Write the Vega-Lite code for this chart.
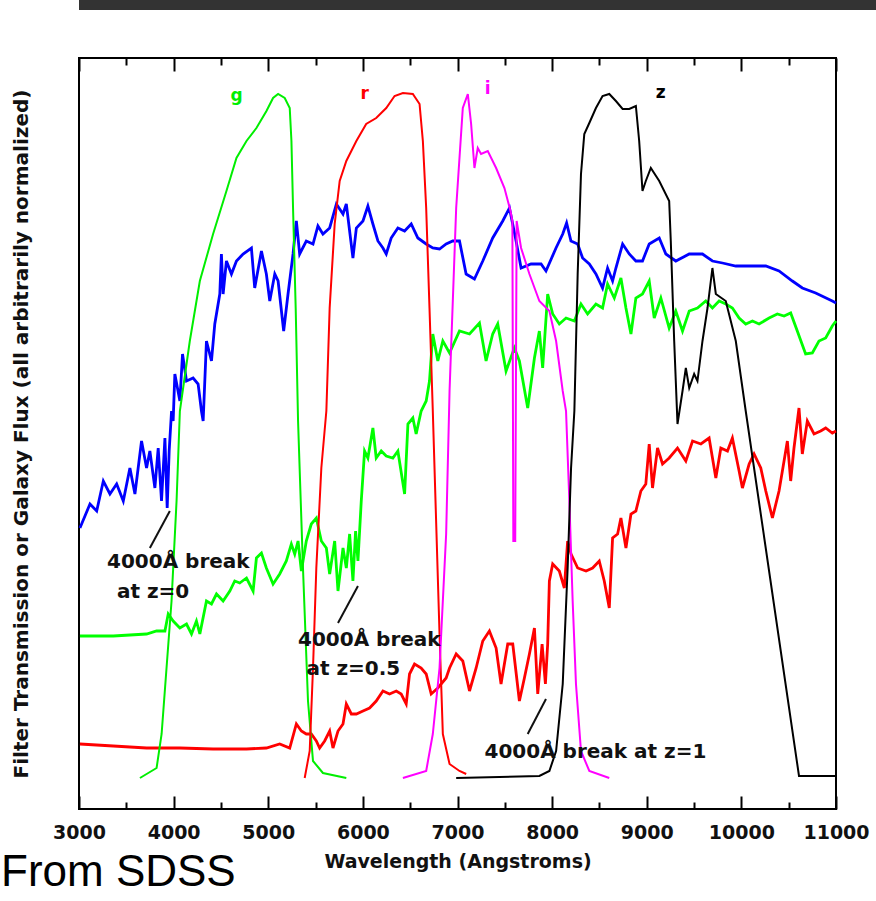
{
"$schema":"https://vega.github.io/schema/vega-lite/v6.json",
"padding":0,
"background":"white",
"columns":1,
"align":"none",
"spacing":46,
"config":{"view":{"stroke":null}},
"concat":[
{"width":798,"height":10,"view":{"fill":"#333333","stroke":null},"data":{"values":[]},"mark":"rect"},
{
"width":757,"height":751,
"view":{"stroke":"black","strokeWidth":2},
"title":{"text":"From SDSS","orient":"bottom","anchor":"start","frame":"group","font":"Liberation Sans","fontSize":44,"fontWeight":"normal","color":"black","dx":-78,"offset":-20},
"encoding":{
"y":{"field":"f","type":"quantitative","scale":{"domain":[2,753],"nice":false,"zero":false},"axis":{"title":"Filter Transmission or Galaxy Flux (all arbitrarily normalized)","ticks":false,"labels":false,"domain":false,"grid":false,"titleFont":"DejaVu Sans","titleFontWeight":"bold","titleFontSize":20,"titleColor":"#111111","titlePadding":48}}
},
"layer":[
{"data":{"values":[
{"s":"galaxy z=0","w":3010,"f":283},{"s":"galaxy z=0","w":3116,"f":307},{"s":"galaxy z=0","w":3187,"f":300},{"s":"galaxy z=0","w":3257,"f":330},{"s":"galaxy z=0","w":3327,"f":317},{"s":"galaxy z=0","w":3398,"f":327},{"s":"galaxy z=0","w":3468,"f":310},{"s":"galaxy z=0","w":3538,"f":343},{"s":"galaxy z=0","w":3591,"f":317},{"s":"galaxy z=0","w":3661,"f":370},{"s":"galaxy z=0","w":3714,"f":343},{"s":"galaxy z=0","w":3749,"f":360},{"s":"galaxy z=0","w":3802,"f":323},{"s":"galaxy z=0","w":3837,"f":363},{"s":"galaxy z=0","w":3872,"f":310},{"s":"galaxy z=0","w":3908,"f":373},{"s":"galaxy z=0","w":3932,"f":303},{"s":"galaxy z=0","w":3953,"f":360},{"s":"galaxy z=0","w":3978,"f":400},{"s":"galaxy z=0","w":3995,"f":390},{"s":"galaxy z=0","w":4013,"f":437},{"s":"galaxy z=0","w":4066,"f":410},{"s":"galaxy z=0","w":4094,"f":457},{"s":"galaxy z=0","w":4136,"f":430},{"s":"galaxy z=0","w":4206,"f":433},{"s":"galaxy z=0","w":4259,"f":427},{"s":"galaxy z=0","w":4294,"f":400},{"s":"galaxy z=0","w":4312,"f":390},{"s":"galaxy z=0","w":4347,"f":470},{"s":"galaxy z=0","w":4400,"f":450},{"s":"galaxy z=0","w":4435,"f":487},{"s":"galaxy z=0","w":4488,"f":517},{"s":"galaxy z=0","w":4505,"f":557},{"s":"galaxy z=0","w":4523,"f":517},{"s":"galaxy z=0","w":4558,"f":550},{"s":"galaxy z=0","w":4611,"f":537},{"s":"galaxy z=0","w":4664,"f":550},{"s":"galaxy z=0","w":4734,"f":557},{"s":"galaxy z=0","w":4822,"f":563},{"s":"galaxy z=0","w":4857,"f":523},{"s":"galaxy z=0","w":4928,"f":560},{"s":"galaxy z=0","w":4980,"f":537},{"s":"galaxy z=0","w":5016,"f":510},{"s":"galaxy z=0","w":5069,"f":537},{"s":"galaxy z=0","w":5104,"f":530},{"s":"galaxy z=0","w":5163,"f":480},{"s":"galaxy z=0","w":5209,"f":517},{"s":"galaxy z=0","w":5262,"f":557},{"s":"galaxy z=0","w":5297,"f":590},{"s":"galaxy z=0","w":5332,"f":557},{"s":"galaxy z=0","w":5402,"f":570},{"s":"galaxy z=0","w":5473,"f":567},{"s":"galaxy z=0","w":5525,"f":585},{"s":"galaxy z=0","w":5578,"f":577},{"s":"galaxy z=0","w":5649,"f":583},{"s":"galaxy z=0","w":5720,"f":607},{"s":"galaxy z=0","w":5790,"f":597},{"s":"galaxy z=0","w":5825,"f":607},{"s":"galaxy z=0","w":5895,"f":553},{"s":"galaxy z=0","w":5931,"f":583},{"s":"galaxy z=0","w":6001,"f":590},{"s":"galaxy z=0","w":6053,"f":605},{"s":"galaxy z=0","w":6106,"f":587},{"s":"galaxy z=0","w":6159,"f":570},{"s":"galaxy z=0","w":6212,"f":563},{"s":"galaxy z=0","w":6247,"f":557},{"s":"galaxy z=0","w":6299,"f":573},{"s":"galaxy z=0","w":6370,"f":583},{"s":"galaxy z=0","w":6441,"f":580},{"s":"galaxy z=0","w":6511,"f":587},{"s":"galaxy z=0","w":6581,"f":573},{"s":"galaxy z=0","w":6669,"f":567},{"s":"galaxy z=0","w":6739,"f":563},{"s":"galaxy z=0","w":6810,"f":562},{"s":"galaxy z=0","w":6880,"f":567},{"s":"galaxy z=0","w":6950,"f":570},{"s":"galaxy z=0","w":7021,"f":570},{"s":"galaxy z=0","w":7091,"f":537},{"s":"galaxy z=0","w":7179,"f":532},{"s":"galaxy z=0","w":7267,"f":550},{"s":"galaxy z=0","w":7372,"f":573},{"s":"galaxy z=0","w":7478,"f":590},{"s":"galaxy z=0","w":7549,"f":603},{"s":"galaxy z=0","w":7619,"f":570},{"s":"galaxy z=0","w":7672,"f":543},{"s":"galaxy z=0","w":7777,"f":547},{"s":"galaxy z=0","w":7883,"f":547},{"s":"galaxy z=0","w":7935,"f":540},{"s":"galaxy z=0","w":8041,"f":563},{"s":"galaxy z=0","w":8112,"f":577},{"s":"galaxy z=0","w":8153,"f":588},{"s":"galaxy z=0","w":8199,"f":570},{"s":"galaxy z=0","w":8270,"f":567},{"s":"galaxy z=0","w":8322,"f":553},{"s":"galaxy z=0","w":8393,"f":547},{"s":"galaxy z=0","w":8463,"f":537},{"s":"galaxy z=0","w":8533,"f":523},{"s":"galaxy z=0","w":8586,"f":543},{"s":"galaxy z=0","w":8639,"f":530},{"s":"galaxy z=0","w":8674,"f":543},{"s":"galaxy z=0","w":8745,"f":567},{"s":"galaxy z=0","w":8815,"f":557},{"s":"galaxy z=0","w":8885,"f":550},{"s":"galaxy z=0","w":8955,"f":550},{"s":"galaxy z=0","w":9026,"f":567},{"s":"galaxy z=0","w":9132,"f":573},{"s":"galaxy z=0","w":9202,"f":557},{"s":"galaxy z=0","w":9307,"f":550},{"s":"galaxy z=0","w":9449,"f":557},{"s":"galaxy z=0","w":9589,"f":557},{"s":"galaxy z=0","w":9694,"f":550},{"s":"galaxy z=0","w":9800,"f":548},{"s":"galaxy z=0","w":9941,"f":545},{"s":"galaxy z=0","w":10082,"f":545},{"s":"galaxy z=0","w":10258,"f":545},{"s":"galaxy z=0","w":10398,"f":540},{"s":"galaxy z=0","w":10539,"f":530},{"s":"galaxy z=0","w":10644,"f":523},{"s":"galaxy z=0","w":10785,"f":518},{"s":"galaxy z=0","w":10961,"f":510},{"s":"galaxy z=0","w":11000,"f":508},
{"s":"galaxy z=0.5","w":3010,"f":175},{"s":"galaxy z=0.5","w":3362,"f":175},{"s":"galaxy z=0.5","w":3714,"f":177},{"s":"galaxy z=0.5","w":3820,"f":180},{"s":"galaxy z=0.5","w":3908,"f":180},{"s":"galaxy z=0.5","w":3943,"f":197},{"s":"galaxy z=0.5","w":3995,"f":190},{"s":"galaxy z=0.5","w":4066,"f":183},{"s":"galaxy z=0.5","w":4136,"f":187},{"s":"galaxy z=0.5","w":4189,"f":177},{"s":"galaxy z=0.5","w":4241,"f":190},{"s":"galaxy z=0.5","w":4277,"f":177},{"s":"galaxy z=0.5","w":4347,"f":210},{"s":"galaxy z=0.5","w":4400,"f":207},{"s":"galaxy z=0.5","w":4453,"f":217},{"s":"galaxy z=0.5","w":4523,"f":210},{"s":"galaxy z=0.5","w":4594,"f":220},{"s":"galaxy z=0.5","w":4646,"f":230},{"s":"galaxy z=0.5","w":4699,"f":228},{"s":"galaxy z=0.5","w":4770,"f":233},{"s":"galaxy z=0.5","w":4840,"f":220},{"s":"galaxy z=0.5","w":4875,"f":253},{"s":"galaxy z=0.5","w":4928,"f":258},{"s":"galaxy z=0.5","w":4980,"f":243},{"s":"galaxy z=0.5","w":5051,"f":227},{"s":"galaxy z=0.5","w":5121,"f":237},{"s":"galaxy z=0.5","w":5191,"f":250},{"s":"galaxy z=0.5","w":5244,"f":267},{"s":"galaxy z=0.5","w":5280,"f":257},{"s":"galaxy z=0.5","w":5315,"f":270},{"s":"galaxy z=0.5","w":5350,"f":240},{"s":"galaxy z=0.5","w":5402,"f":270},{"s":"galaxy z=0.5","w":5455,"f":287},{"s":"galaxy z=0.5","w":5508,"f":293},{"s":"galaxy z=0.5","w":5561,"f":270},{"s":"galaxy z=0.5","w":5614,"f":263},{"s":"galaxy z=0.5","w":5649,"f":237},{"s":"galaxy z=0.5","w":5702,"f":270},{"s":"galaxy z=0.5","w":5737,"f":220},{"s":"galaxy z=0.5","w":5790,"f":263},{"s":"galaxy z=0.5","w":5825,"f":243},{"s":"galaxy z=0.5","w":5860,"f":277},{"s":"galaxy z=0.5","w":5895,"f":230},{"s":"galaxy z=0.5","w":5923,"f":280},{"s":"galaxy z=0.5","w":5948,"f":250},{"s":"galaxy z=0.5","w":5983,"f":310},{"s":"galaxy z=0.5","w":6018,"f":360},{"s":"galaxy z=0.5","w":6053,"f":353},{"s":"galaxy z=0.5","w":6106,"f":383},{"s":"galaxy z=0.5","w":6141,"f":353},{"s":"galaxy z=0.5","w":6194,"f":360},{"s":"galaxy z=0.5","w":6247,"f":355},{"s":"galaxy z=0.5","w":6317,"f":353},{"s":"galaxy z=0.5","w":6370,"f":360},{"s":"galaxy z=0.5","w":6441,"f":317},{"s":"galaxy z=0.5","w":6476,"f":387},{"s":"galaxy z=0.5","w":6528,"f":393},{"s":"galaxy z=0.5","w":6563,"f":377},{"s":"galaxy z=0.5","w":6616,"f":400},{"s":"galaxy z=0.5","w":6669,"f":410},{"s":"galaxy z=0.5","w":6704,"f":430},{"s":"galaxy z=0.5","w":6739,"f":477},{"s":"galaxy z=0.5","w":6792,"f":450},{"s":"galaxy z=0.5","w":6845,"f":470},{"s":"galaxy z=0.5","w":6916,"f":458},{"s":"galaxy z=0.5","w":7021,"f":480},{"s":"galaxy z=0.5","w":7127,"f":477},{"s":"galaxy z=0.5","w":7232,"f":488},{"s":"galaxy z=0.5","w":7302,"f":450},{"s":"galaxy z=0.5","w":7372,"f":477},{"s":"galaxy z=0.5","w":7425,"f":487},{"s":"galaxy z=0.5","w":7513,"f":440},{"s":"galaxy z=0.5","w":7601,"f":463},{"s":"galaxy z=0.5","w":7654,"f":450},{"s":"galaxy z=0.5","w":7742,"f":403},{"s":"galaxy z=0.5","w":7813,"f":453},{"s":"galaxy z=0.5","w":7865,"f":480},{"s":"galaxy z=0.5","w":7900,"f":443},{"s":"galaxy z=0.5","w":7953,"f":517},{"s":"galaxy z=0.5","w":8006,"f":497},{"s":"galaxy z=0.5","w":8076,"f":487},{"s":"galaxy z=0.5","w":8147,"f":493},{"s":"galaxy z=0.5","w":8235,"f":490},{"s":"galaxy z=0.5","w":8305,"f":507},{"s":"galaxy z=0.5","w":8375,"f":497},{"s":"galaxy z=0.5","w":8463,"f":507},{"s":"galaxy z=0.5","w":8533,"f":503},{"s":"galaxy z=0.5","w":8586,"f":527},{"s":"galaxy z=0.5","w":8657,"f":513},{"s":"galaxy z=0.5","w":8727,"f":533},{"s":"galaxy z=0.5","w":8780,"f":503},{"s":"galaxy z=0.5","w":8833,"f":477},{"s":"galaxy z=0.5","w":8885,"f":513},{"s":"galaxy z=0.5","w":8955,"f":517},{"s":"galaxy z=0.5","w":9026,"f":530},{"s":"galaxy z=0.5","w":9079,"f":493},{"s":"galaxy z=0.5","w":9149,"f":513},{"s":"galaxy z=0.5","w":9237,"f":483},{"s":"galaxy z=0.5","w":9307,"f":500},{"s":"galaxy z=0.5","w":9378,"f":480},{"s":"galaxy z=0.5","w":9449,"f":500},{"s":"galaxy z=0.5","w":9536,"f":503},{"s":"galaxy z=0.5","w":9624,"f":510},{"s":"galaxy z=0.5","w":9694,"f":503},{"s":"galaxy z=0.5","w":9765,"f":510},{"s":"galaxy z=0.5","w":9835,"f":507},{"s":"galaxy z=0.5","w":9905,"f":503},{"s":"galaxy z=0.5","w":9976,"f":493},{"s":"galaxy z=0.5","w":10046,"f":487},{"s":"galaxy z=0.5","w":10117,"f":490},{"s":"galaxy z=0.5","w":10187,"f":487},{"s":"galaxy z=0.5","w":10293,"f":493},{"s":"galaxy z=0.5","w":10380,"f":497},{"s":"galaxy z=0.5","w":10451,"f":495},{"s":"galaxy z=0.5","w":10521,"f":498},{"s":"galaxy z=0.5","w":10591,"f":480},{"s":"galaxy z=0.5","w":10679,"f":457},{"s":"galaxy z=0.5","w":10750,"f":458},{"s":"galaxy z=0.5","w":10820,"f":470},{"s":"galaxy z=0.5","w":10891,"f":473},{"s":"galaxy z=0.5","w":10961,"f":485},{"s":"galaxy z=0.5","w":11000,"f":490},
{"s":"galaxy z=1","w":3010,"f":67},{"s":"galaxy z=1","w":3362,"f":65},{"s":"galaxy z=1","w":3714,"f":63},{"s":"galaxy z=1","w":4066,"f":63},{"s":"galaxy z=1","w":4417,"f":62},{"s":"galaxy z=1","w":4770,"f":62},{"s":"galaxy z=1","w":4980,"f":63},{"s":"galaxy z=1","w":5121,"f":67},{"s":"galaxy z=1","w":5227,"f":63},{"s":"galaxy z=1","w":5297,"f":87},{"s":"galaxy z=1","w":5350,"f":80},{"s":"galaxy z=1","w":5402,"f":77},{"s":"galaxy z=1","w":5455,"f":77},{"s":"galaxy z=1","w":5508,"f":70},{"s":"galaxy z=1","w":5543,"f":63},{"s":"galaxy z=1","w":5596,"f":70},{"s":"galaxy z=1","w":5649,"f":80},{"s":"galaxy z=1","w":5684,"f":63},{"s":"galaxy z=1","w":5737,"f":80},{"s":"galaxy z=1","w":5790,"f":87},{"s":"galaxy z=1","w":5825,"f":107},{"s":"galaxy z=1","w":5878,"f":97},{"s":"galaxy z=1","w":5931,"f":97},{"s":"galaxy z=1","w":6001,"f":100},{"s":"galaxy z=1","w":6071,"f":103},{"s":"galaxy z=1","w":6141,"f":110},{"s":"galaxy z=1","w":6212,"f":120},{"s":"galaxy z=1","w":6282,"f":117},{"s":"galaxy z=1","w":6353,"f":120},{"s":"galaxy z=1","w":6405,"f":117},{"s":"galaxy z=1","w":6458,"f":107},{"s":"galaxy z=1","w":6493,"f":137},{"s":"galaxy z=1","w":6546,"f":147},{"s":"galaxy z=1","w":6616,"f":143},{"s":"galaxy z=1","w":6669,"f":137},{"s":"galaxy z=1","w":6722,"f":117},{"s":"galaxy z=1","w":6792,"f":123},{"s":"galaxy z=1","w":6880,"f":133},{"s":"galaxy z=1","w":6916,"f":143},{"s":"galaxy z=1","w":6986,"f":157},{"s":"galaxy z=1","w":7056,"f":150},{"s":"galaxy z=1","w":7127,"f":120},{"s":"galaxy z=1","w":7197,"f":143},{"s":"galaxy z=1","w":7267,"f":170},{"s":"galaxy z=1","w":7337,"f":180},{"s":"galaxy z=1","w":7408,"f":163},{"s":"galaxy z=1","w":7460,"f":127},{"s":"galaxy z=1","w":7531,"f":167},{"s":"galaxy z=1","w":7584,"f":167},{"s":"galaxy z=1","w":7654,"f":110},{"s":"galaxy z=1","w":7707,"f":133},{"s":"galaxy z=1","w":7760,"f":157},{"s":"galaxy z=1","w":7813,"f":183},{"s":"galaxy z=1","w":7848,"f":117},{"s":"galaxy z=1","w":7894,"f":167},{"s":"galaxy z=1","w":7929,"f":127},{"s":"galaxy z=1","w":7953,"f":167},{"s":"galaxy z=1","w":7971,"f":230},{"s":"galaxy z=1","w":8006,"f":247},{"s":"galaxy z=1","w":8076,"f":240},{"s":"galaxy z=1","w":8129,"f":223},{"s":"galaxy z=1","w":8164,"f":270},{"s":"galaxy z=1","w":8200,"f":257},{"s":"galaxy z=1","w":8270,"f":243},{"s":"galaxy z=1","w":8358,"f":240},{"s":"galaxy z=1","w":8428,"f":243},{"s":"galaxy z=1","w":8498,"f":250},{"s":"galaxy z=1","w":8551,"f":230},{"s":"galaxy z=1","w":8604,"f":203},{"s":"galaxy z=1","w":8639,"f":273},{"s":"galaxy z=1","w":8692,"f":277},{"s":"galaxy z=1","w":8727,"f":293},{"s":"galaxy z=1","w":8780,"f":263},{"s":"galaxy z=1","w":8833,"f":297},{"s":"galaxy z=1","w":8885,"f":300},{"s":"galaxy z=1","w":8938,"f":320},{"s":"galaxy z=1","w":8990,"f":327},{"s":"galaxy z=1","w":9026,"f":367},{"s":"galaxy z=1","w":9061,"f":323},{"s":"galaxy z=1","w":9114,"f":363},{"s":"galaxy z=1","w":9167,"f":347},{"s":"galaxy z=1","w":9237,"f":353},{"s":"galaxy z=1","w":9325,"f":363},{"s":"galaxy z=1","w":9413,"f":350},{"s":"galaxy z=1","w":9484,"f":370},{"s":"galaxy z=1","w":9572,"f":367},{"s":"galaxy z=1","w":9659,"f":373},{"s":"galaxy z=1","w":9730,"f":333},{"s":"galaxy z=1","w":9783,"f":363},{"s":"galaxy z=1","w":9853,"f":360},{"s":"galaxy z=1","w":9905,"f":373},{"s":"galaxy z=1","w":9976,"f":340},{"s":"galaxy z=1","w":10011,"f":323},{"s":"galaxy z=1","w":10082,"f":347},{"s":"galaxy z=1","w":10134,"f":357},{"s":"galaxy z=1","w":10205,"f":343},{"s":"galaxy z=1","w":10258,"f":320},{"s":"galaxy z=1","w":10328,"f":293},{"s":"galaxy z=1","w":10398,"f":320},{"s":"galaxy z=1","w":10451,"f":350},{"s":"galaxy z=1","w":10486,"f":370},{"s":"galaxy z=1","w":10521,"f":330},{"s":"galaxy z=1","w":10556,"f":363},{"s":"galaxy z=1","w":10609,"f":403},{"s":"galaxy z=1","w":10644,"f":357},{"s":"galaxy z=1","w":10697,"f":390},{"s":"galaxy z=1","w":10768,"f":377},{"s":"galaxy z=1","w":10838,"f":380},{"s":"galaxy z=1","w":10891,"f":383},{"s":"galaxy z=1","w":10961,"f":378},{"s":"galaxy z=1","w":11000,"f":380}
]},
"mark":{"type":"line","strokeWidth":2.8},
"encoding":{
"x":{"field":"w","type":"quantitative","scale":{"domain":[3000,11000],"nice":false,"zero":false},"axis":{"orient":"bottom","values":[3500,4500,5500,6500,7500,8500,9500,10500],"tickSize":-7,"tickWidth":2,"tickColor":"black","labels":false,"domain":false,"grid":false,"title":null}},
"color":{"field":"s","type":"nominal","scale":{"domain":["g filter","r filter","i filter","z filter","galaxy z=0","galaxy z=0.5","galaxy z=1"],"range":["#00ee00","#ff0000","#ff00ff","#000000","#0000ff","#00ff00","#ff0000"]},"legend":null}
}},
{"data":{"values":[
{"s":"g filter","w":3644,"f":33},{"s":"g filter","w":3820,"f":43},{"s":"g filter","w":3873,"f":77},{"s":"g filter","w":3925,"f":143},{"s":"g filter","w":3978,"f":210},{"s":"g filter","w":4031,"f":310},{"s":"g filter","w":4066,"f":400},{"s":"g filter","w":4171,"f":470},{"s":"g filter","w":4277,"f":530},{"s":"g filter","w":4417,"f":577},{"s":"g filter","w":4558,"f":620},{"s":"g filter","w":4664,"f":653},{"s":"g filter","w":4770,"f":670},{"s":"g filter","w":4875,"f":683},{"s":"g filter","w":4981,"f":700},{"s":"g filter","w":5051,"f":713},{"s":"g filter","w":5104,"f":717},{"s":"g filter","w":5174,"f":713},{"s":"g filter","w":5227,"f":703},{"s":"g filter","w":5245,"f":670},{"s":"g filter","w":5262,"f":603},{"s":"g filter","w":5290,"f":503},{"s":"g filter","w":5315,"f":390},{"s":"g filter","w":5367,"f":243},{"s":"g filter","w":5420,"f":110},{"s":"g filter","w":5473,"f":50},{"s":"g filter","w":5578,"f":38},{"s":"g filter","w":5825,"f":33},
{"s":"r filter","w":5385,"f":33},{"s":"r filter","w":5438,"f":60},{"s":"r filter","w":5473,"f":143},{"s":"r filter","w":5508,"f":243},{"s":"r filter","w":5561,"f":343},{"s":"r filter","w":5614,"f":400},{"s":"r filter","w":5649,"f":503},{"s":"r filter","w":5702,"f":587},{"s":"r filter","w":5755,"f":630},{"s":"r filter","w":5825,"f":650},{"s":"r filter","w":5931,"f":670},{"s":"r filter","w":6035,"f":687},{"s":"r filter","w":6141,"f":693},{"s":"r filter","w":6247,"f":703},{"s":"r filter","w":6335,"f":715},{"s":"r filter","w":6423,"f":718},{"s":"r filter","w":6528,"f":717},{"s":"r filter","w":6599,"f":707},{"s":"r filter","w":6634,"f":670},{"s":"r filter","w":6669,"f":603},{"s":"r filter","w":6704,"f":503},{"s":"r filter","w":6739,"f":400},{"s":"r filter","w":6810,"f":177},{"s":"r filter","w":6845,"f":77},{"s":"r filter","w":6916,"f":47},{"s":"r filter","w":7021,"f":40},{"s":"r filter","w":7092,"f":37},
{"s":"i filter","w":6423,"f":33},{"s":"i filter","w":6669,"f":40},{"s":"i filter","w":6739,"f":77},{"s":"i filter","w":6810,"f":143},{"s":"i filter","w":6880,"f":277},{"s":"i filter","w":6916,"f":420},{"s":"i filter","w":6986,"f":603},{"s":"i filter","w":7056,"f":703},{"s":"i filter","w":7109,"f":717},{"s":"i filter","w":7144,"f":687},{"s":"i filter","w":7179,"f":643},{"s":"i filter","w":7214,"f":663},{"s":"i filter","w":7249,"f":657},{"s":"i filter","w":7320,"f":660},{"s":"i filter","w":7408,"f":643},{"s":"i filter","w":7496,"f":623},{"s":"i filter","w":7560,"f":600},{"s":"i filter","w":7580,"f":590},{"s":"i filter","w":7590,"f":270},{"s":"i filter","w":7610,"f":270},{"s":"i filter","w":7625,"f":590},{"s":"i filter","w":7672,"f":563},{"s":"i filter","w":7760,"f":537},{"s":"i filter","w":7865,"f":510},{"s":"i filter","w":7971,"f":500},{"s":"i filter","w":8042,"f":470},{"s":"i filter","w":8112,"f":420},{"s":"i filter","w":8147,"f":400},{"s":"i filter","w":8182,"f":310},{"s":"i filter","w":8217,"f":210},{"s":"i filter","w":8252,"f":127},{"s":"i filter","w":8305,"f":60},{"s":"i filter","w":8393,"f":40},{"s":"i filter","w":8604,"f":33},
{"s":"z filter","w":6986,"f":33},{"s":"z filter","w":7865,"f":35},{"s":"z filter","w":7971,"f":40},{"s":"z filter","w":8042,"f":60},{"s":"z filter","w":8112,"f":127},{"s":"z filter","w":8164,"f":243},{"s":"z filter","w":8200,"f":343},{"s":"z filter","w":8235,"f":400},{"s":"z filter","w":8270,"f":537},{"s":"z filter","w":8305,"f":637},{"s":"z filter","w":8340,"f":677},{"s":"z filter","w":8393,"f":688},{"s":"z filter","w":8463,"f":703},{"s":"z filter","w":8533,"f":715},{"s":"z filter","w":8604,"f":717},{"s":"z filter","w":8674,"f":710},{"s":"z filter","w":8745,"f":702},{"s":"z filter","w":8815,"f":702},{"s":"z filter","w":8885,"f":705},{"s":"z filter","w":8920,"f":670},{"s":"z filter","w":8955,"f":620},{"s":"z filter","w":8990,"f":630},{"s":"z filter","w":9043,"f":643},{"s":"z filter","w":9132,"f":630},{"s":"z filter","w":9237,"f":610},{"s":"z filter","w":9254,"f":570},{"s":"z filter","w":9290,"f":470},{"s":"z filter","w":9325,"f":387},{"s":"z filter","w":9378,"f":420},{"s":"z filter","w":9413,"f":443},{"s":"z filter","w":9449,"f":423},{"s":"z filter","w":9501,"f":437},{"s":"z filter","w":9536,"f":430},{"s":"z filter","w":9589,"f":470},{"s":"z filter","w":9642,"f":503},{"s":"z filter","w":9694,"f":543},{"s":"z filter","w":9730,"f":517},{"s":"z filter","w":9835,"f":510},{"s":"z filter","w":9941,"f":470},{"s":"z filter","w":10046,"f":400},{"s":"z filter","w":10609,"f":35},{"s":"z filter","w":11000,"f":35}
]},
"mark":{"type":"line","strokeWidth":2},
"encoding":{
"x":{"field":"w","type":"quantitative","scale":{"domain":[3000,11000],"nice":false,"zero":false},"axis":{"orient":"bottom","values":[3000,4000,5000,6000,7000,8000,9000,10000,11000],"format":"d","tickSize":-13,"tickWidth":2,"tickColor":"black","labelFont":"DejaVu Sans","labelFontWeight":"bold","labelFontSize":19,"labelColor":"#111111","labelPadding":27,"labelFlush":false,"labelOverlap":false,"domain":false,"grid":false,"title":"Wavelength (Angstroms)","titleFont":"DejaVu Sans","titleFontWeight":"bold","titleFontSize":19,"titleColor":"#111111","titlePadding":10}},
"color":{"field":"s","type":"nominal","scale":{"domain":["g filter","r filter","i filter","z filter","galaxy z=0","galaxy z=0.5","galaxy z=1"],"range":["#00ee00","#ff0000","#ff00ff","#000000","#0000ff","#00ff00","#ff0000"]},"legend":null}
}},
{"data":{"values":[
{"w":3749,"f":263,"w2":3960,"f2":300},{"w":5737,"f":188,"w2":5948,"f2":225},{"w":7742,"f":77,"w2":7935,"f2":112}
]},
"mark":{"type":"rule","strokeWidth":2,"color":"#111111"},
"encoding":{
"x":{"field":"w","type":"quantitative","scale":{"domain":[3000,11000],"nice":false,"zero":false},"axis":{"orient":"top","values":[3000,4000,5000,6000,7000,8000,9000,10000,11000],"tickSize":-13,"tickWidth":2,"tickColor":"black","labels":false,"domain":false,"grid":false,"title":null}},
"x2":{"field":"w2"},
"y2":{"field":"f2"}
}},
{"data":{"values":[
{"t":"4000Å break","w":3296,"f":249},{"t":"at z=0","w":3401,"f":219},{"t":"4000Å break","w":5314,"f":171},{"t":"at z=0.5","w":5403,"f":142},{"t":"4000Å break at z=1","w":7285,"f":59}
]},
"mark":{"type":"text","align":"left","baseline":"middle","font":"DejaVu Sans","fontWeight":"bold","fontSize":20,"color":"#111111"},
"encoding":{
"x":{"field":"w","type":"quantitative","scale":{"domain":[3000,11000],"nice":false,"zero":false},"axis":{"orient":"top","values":[3500,4500,5500,6500,7500,8500,9500,10500],"tickSize":-7,"tickWidth":2,"tickColor":"black","labels":false,"domain":false,"grid":false,"title":null}},
"text":{"field":"t"}
}},
{"data":{"values":[
{"t":"g","s":"g filter","w":4664,"f":715},{"t":"r","s":"r filter","w":6018,"f":717},{"t":"i","s":"i filter","w":7320,"f":722},{"t":"z","s":"z filter","w":9148,"f":718}
]},
"mark":{"type":"text","align":"center","baseline":"middle","font":"DejaVu Sans","fontWeight":"bold","fontSize":17},
"encoding":{
"x":{"field":"w","type":"quantitative","scale":{"domain":[3000,11000],"nice":false,"zero":false},"axis":null},
"text":{"field":"t"},
"color":{"field":"s","type":"nominal","scale":{"domain":["g filter","r filter","i filter","z filter","galaxy z=0","galaxy z=0.5","galaxy z=1"],"range":["#00ee00","#ff0000","#ff00ff","#000000","#0000ff","#00ff00","#ff0000"]},"legend":null}
}}
],
"resolve":{"axis":{"x":"independent"}}
}
]
}
